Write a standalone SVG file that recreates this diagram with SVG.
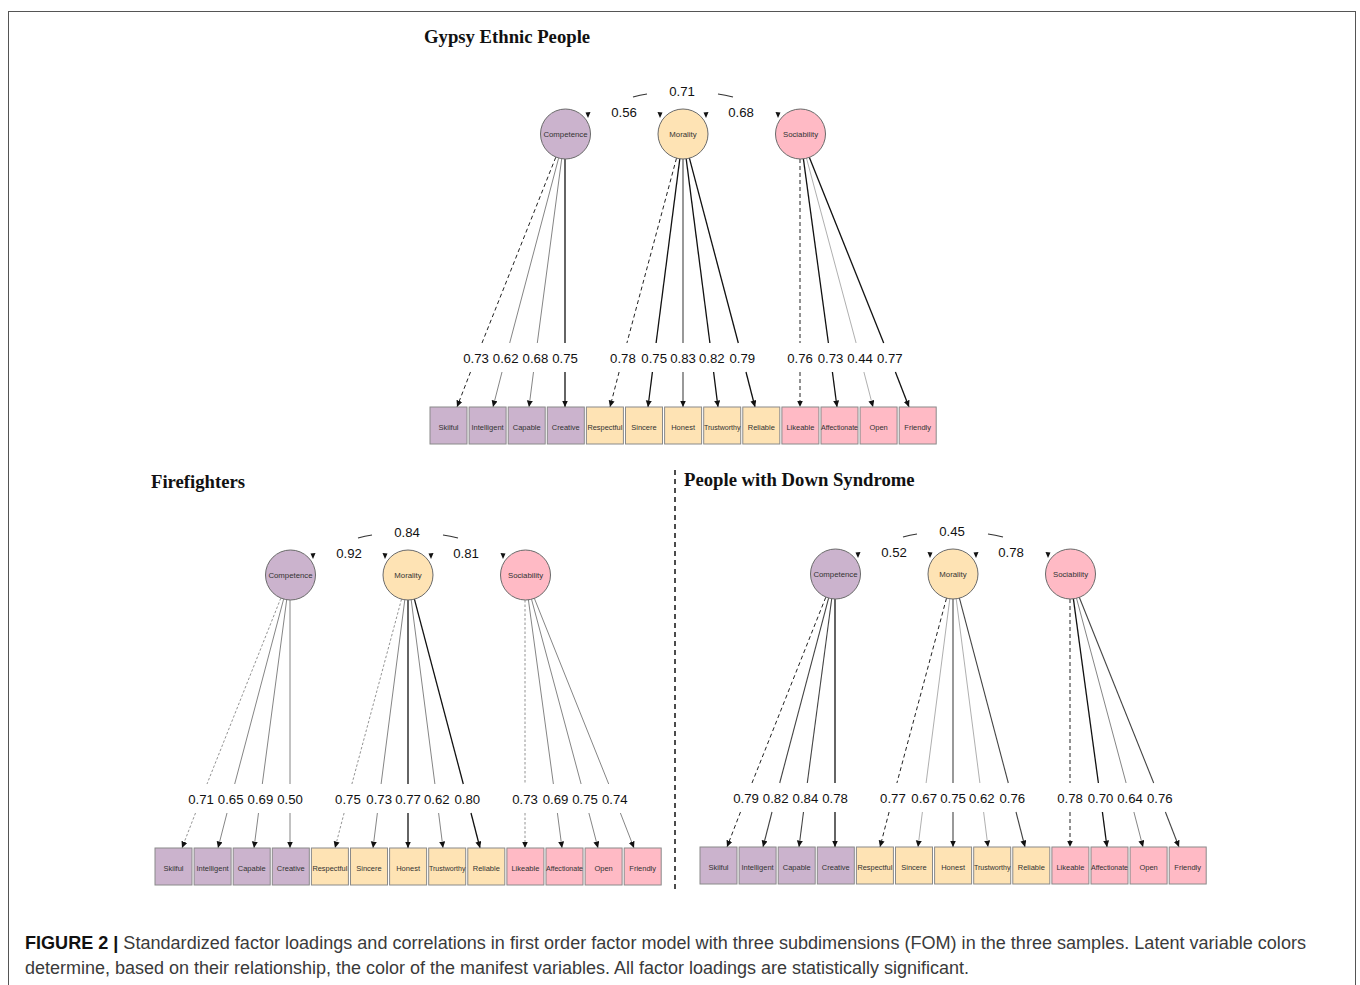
<svg xmlns="http://www.w3.org/2000/svg" width="1360" height="985" viewBox="0 0 1360 985">
<style>
.c{stroke:#6a6a6a;stroke-width:1}
.b{stroke:#8a8a8a;stroke-width:1}
.comp{fill:#cbb3cd}
.mor{fill:#fee3b4}
.soc{fill:#ffbac5}
.ct{font-family:"Liberation Sans",Arial,sans-serif;font-size:7.8px;fill:#333;text-anchor:middle}
.bt{font-family:"Liberation Sans",Arial,sans-serif;font-size:7.5px;fill:#333;text-anchor:middle}
.lab{font-family:"Liberation Sans",Arial,sans-serif;font-size:13.2px;fill:#111;text-anchor:middle}
.ttl{font-family:"Liberation Serif","Times New Roman",serif;font-size:18.7px;font-weight:bold;fill:#111}
line,path.ln{fill:none}
.d{stroke:#222;stroke-width:1;stroke-dasharray:4 3}
.dl{stroke:#777;stroke-width:0.8;stroke-dasharray:2.5 2}
.k{stroke:#111;stroke-width:1.3}
.m{stroke:#444;stroke-width:1.1}
.g{stroke:#777;stroke-width:0.9}
.lg{stroke:#9a9a9a;stroke-width:0.8}
.ah{marker-end:url(#arr)}
.arc{stroke:#333;stroke-width:1.2;fill:none}
.tri{fill:#111}
.cap{font-family:"Liberation Sans",Arial,sans-serif;font-size:17.5px;fill:#3a3a3a}
</style>
<defs>
<marker id="arr" markerUnits="userSpaceOnUse" markerWidth="8" markerHeight="8" refX="6.5" refY="3" orient="auto">
<path d="M0,0 L6.5,3 L0,6 z" fill="#111" stroke="none"/>
</marker>
<g id="corr">
<path class="arc" d="M633,97 Q640,95 647,94"/>
<path class="arc" d="M718,94 Q725,95 733,97"/>
<polygon class="tri" points="585.5,112.5 590.5,112 588,118"/>
<polygon class="tri" points="657.5,112 662.5,112.5 660,118"/>
<polygon class="tri" points="703.5,112.5 708.5,112 706,118"/>
<polygon class="tri" points="775.5,112 780.5,112.5 778,118"/>
</g>
<g id="latent">
<g><circle class="c comp" cx="565.5" cy="134" r="25"/><text class="ct" x="565.5" y="136.8">Competence</text></g>
<g><circle class="c mor" cx="683" cy="134" r="25"/><text class="ct" x="683" y="136.8">Morality</text></g>
<g><circle class="c soc" cx="800.5" cy="134" r="25"/><text class="ct" x="800.5" y="136.8">Sociability</text></g>
</g>
<g id="manifest">
<g><rect class="b comp" x="430" y="407" width="37" height="37"/><text class="bt" x="448.5" y="429.5">Skilful</text></g>
<g><rect class="b comp" x="469.1" y="407" width="37" height="37"/><text class="bt" x="487.6" y="429.5">Intelligent</text></g>
<g><rect class="b comp" x="508.2" y="407" width="37" height="37"/><text class="bt" x="526.7" y="429.5">Capable</text></g>
<g><rect class="b comp" x="547.3" y="407" width="37" height="37"/><text class="bt" x="565.8" y="429.5">Creative</text></g>
<g><rect class="b mor" x="586.4" y="407" width="37" height="37"/><text class="bt" x="604.9" y="429.5" textLength="35" lengthAdjust="spacingAndGlyphs">Respectful</text></g>
<g><rect class="b mor" x="625.5" y="407" width="37" height="37"/><text class="bt" x="644" y="429.5">Sincere</text></g>
<g><rect class="b mor" x="664.6" y="407" width="37" height="37"/><text class="bt" x="683.1" y="429.5">Honest</text></g>
<g><rect class="b mor" x="703.7" y="407" width="37" height="37"/><text class="bt" x="722.2" y="429.5" textLength="36.5" lengthAdjust="spacingAndGlyphs">Trustworthy</text></g>
<g><rect class="b mor" x="742.8" y="407" width="37" height="37"/><text class="bt" x="761.3" y="429.5">Reliable</text></g>
<g><rect class="b soc" x="781.9" y="407" width="37" height="37"/><text class="bt" x="800.4" y="429.5">Likeable</text></g>
<g><rect class="b soc" x="821" y="407" width="37" height="37"/><text class="bt" x="839.5" y="429.5" textLength="37" lengthAdjust="spacingAndGlyphs">Affectionate</text></g>
<g><rect class="b soc" x="860.1" y="407" width="37" height="37"/><text class="bt" x="878.6" y="429.5">Open</text></g>
<g><rect class="b soc" x="899.2" y="407" width="37" height="37"/><text class="bt" x="917.7" y="429.5">Friendly</text></g>
</g>
</defs>

<rect x="8.5" y="11.5" width="1347" height="1000" fill="#fff" stroke="#555" stroke-width="1"/>

<!-- Panel 1: Gypsy Ethnic People -->
<g id="panel-gypsy">
<text class="ttl" x="424" y="43">Gypsy Ethnic People</text>
<g id="gypsy-connectors">
<use href="#corr"/>
<line class="d" x1="555.8" y1="157.2" x2="482" y2="343"/><line class="d ah" x1="470.5" y1="372" x2="457" y2="407"/>
<line class="g" x1="558.6" y1="158.2" x2="509.7" y2="343"/><line class="g ah" x1="502" y1="372" x2="493" y2="407"/>
<line class="g" x1="561.7" y1="158.8" x2="537.3" y2="343"/><line class="g ah" x1="533.5" y1="372" x2="529" y2="407"/>
<line class="k" x1="565" y1="159" x2="565" y2="343"/><line class="k ah" x1="565" y1="372" x2="565" y2="407"/>
<line class="d" x1="676.5" y1="158.2" x2="626.9" y2="343"/><line class="d ah" x1="619.1" y1="372" x2="610" y2="407"/>
<line class="k" x1="679.8" y1="158.8" x2="656.1" y2="343"/><line class="k ah" x1="652.4" y1="372" x2="648" y2="407"/>
<line class="m" x1="683" y1="159" x2="683" y2="343"/><line class="m ah" x1="683" y1="372" x2="683" y2="407"/>
<line class="k" x1="686.2" y1="158.8" x2="709.9" y2="343"/><line class="k ah" x1="713.6" y1="372" x2="718" y2="407"/>
<line class="k" x1="689.4" y1="158.2" x2="738.3" y2="343"/><line class="k ah" x1="746" y1="372" x2="755" y2="407"/>
<line class="d" x1="800" y1="159" x2="800" y2="343"/><line class="d ah" x1="800" y1="372" x2="800" y2="407"/>
<line class="k" x1="803.4" y1="158.8" x2="828.4" y2="343"/><line class="k ah" x1="832.4" y1="372" x2="837" y2="407"/>
<line class="lg" x1="806.5" y1="158.2" x2="856.1" y2="343"/><line class="lg ah" x1="863.9" y1="372" x2="873" y2="407"/>
<line class="k" x1="809.3" y1="157.2" x2="883.7" y2="343"/><line class="k ah" x1="895.4" y1="372" x2="909" y2="407"/>
</g>
<g id="gypsy-nodes">
<use href="#latent"/>
<use href="#manifest"/>
</g>
<g id="gypsy-labels">
<text class="lab" x="682" y="96">0.71</text><text class="lab" x="624" y="117">0.56</text><text class="lab" x="741" y="117">0.68</text>
<text class="lab" x="476" y="363">0.73</text><text class="lab" x="505.7" y="363">0.62</text><text class="lab" x="535.4" y="363">0.68</text><text class="lab" x="565" y="363">0.75</text>
<text class="lab" x="622.9" y="363">0.78</text><text class="lab" x="654.2" y="363">0.75</text><text class="lab" x="683" y="363">0.83</text><text class="lab" x="711.8" y="363">0.82</text><text class="lab" x="742.3" y="363">0.79</text>
<text class="lab" x="800" y="363">0.76</text><text class="lab" x="830.5" y="363">0.73</text><text class="lab" x="860.1" y="363">0.44</text><text class="lab" x="889.8" y="363">0.77</text>
</g>
</g>

<!-- Panel 2: Firefighters -->
<text class="ttl" x="151" y="488">Firefighters</text>
<g id="panel-fire" transform="translate(-275,441)">
<g id="fire-connectors">
<use href="#corr"/>
<line class="dl" x1="555.8" y1="157.2" x2="482" y2="343"/><line class="dl ah" x1="470.5" y1="372" x2="457" y2="407"/>
<line class="g" x1="558.6" y1="158.2" x2="509.7" y2="343"/><line class="g ah" x1="502" y1="372" x2="493" y2="407"/>
<line class="g" x1="561.7" y1="158.8" x2="537.3" y2="343"/><line class="g ah" x1="533.5" y1="372" x2="529" y2="407"/>
<line class="g" x1="565" y1="159" x2="565" y2="343"/><line class="g ah" x1="565" y1="372" x2="565" y2="407"/>
<line class="dl" x1="676.5" y1="158.2" x2="626.9" y2="343"/><line class="dl ah" x1="619.1" y1="372" x2="610" y2="407"/>
<line class="g" x1="679.8" y1="158.8" x2="656.1" y2="343"/><line class="g ah" x1="652.4" y1="372" x2="648" y2="407"/>
<line class="k" x1="683" y1="159" x2="683" y2="343"/><line class="k ah" x1="683" y1="372" x2="683" y2="407"/>
<line class="g" x1="686.2" y1="158.8" x2="709.9" y2="343"/><line class="g ah" x1="713.6" y1="372" x2="718" y2="407"/>
<line class="k" x1="689.4" y1="158.2" x2="738.3" y2="343"/><line class="k ah" x1="746" y1="372" x2="755" y2="407"/>
<line class="dl" x1="800" y1="159" x2="800" y2="343"/><line class="dl ah" x1="800" y1="372" x2="800" y2="407"/>
<line class="g" x1="803.4" y1="158.8" x2="828.4" y2="343"/><line class="g ah" x1="832.4" y1="372" x2="837" y2="407"/>
<line class="g" x1="806.5" y1="158.2" x2="856.1" y2="343"/><line class="g ah" x1="863.9" y1="372" x2="873" y2="407"/>
<line class="g" x1="809.3" y1="157.2" x2="883.7" y2="343"/><line class="g ah" x1="895.4" y1="372" x2="909" y2="407"/>
</g>
<g id="fire-nodes">
<use href="#latent"/>
<use href="#manifest"/>
</g>
<g id="fire-labels">
<text class="lab" x="682" y="96">0.84</text><text class="lab" x="624" y="117">0.92</text><text class="lab" x="741" y="117">0.81</text>
<text class="lab" x="476" y="363">0.71</text><text class="lab" x="505.7" y="363">0.65</text><text class="lab" x="535.4" y="363">0.69</text><text class="lab" x="565" y="363">0.50</text>
<text class="lab" x="622.9" y="363">0.75</text><text class="lab" x="654.2" y="363">0.73</text><text class="lab" x="683" y="363">0.77</text><text class="lab" x="711.8" y="363">0.62</text><text class="lab" x="742.3" y="363">0.80</text>
<text class="lab" x="800" y="363">0.73</text><text class="lab" x="830.5" y="363">0.69</text><text class="lab" x="860.1" y="363">0.75</text><text class="lab" x="889.8" y="363">0.74</text>
</g>
</g>

<line x1="675" y1="470" x2="675" y2="893" stroke="#111" stroke-width="1.5" stroke-dasharray="5 4"/>

<!-- Panel 3: People with Down Syndrome -->
<text class="ttl" x="684" y="486">People with Down Syndrome</text>
<g id="panel-down" transform="translate(270,440)">
<g id="down-connectors">
<use href="#corr"/>
<line class="d" x1="555.8" y1="157.2" x2="482" y2="343"/><line class="d ah" x1="470.5" y1="372" x2="457" y2="407"/>
<line class="m" x1="558.6" y1="158.2" x2="509.7" y2="343"/><line class="m ah" x1="502" y1="372" x2="493" y2="407"/>
<line class="m" x1="561.7" y1="158.8" x2="537.3" y2="343"/><line class="m ah" x1="533.5" y1="372" x2="529" y2="407"/>
<line class="k" x1="565" y1="159" x2="565" y2="343"/><line class="k ah" x1="565" y1="372" x2="565" y2="407"/>
<line class="d" x1="676.5" y1="158.2" x2="626.9" y2="343"/><line class="d ah" x1="619.1" y1="372" x2="610" y2="407"/>
<line class="lg" x1="679.8" y1="158.8" x2="656.1" y2="343"/><line class="lg ah" x1="652.4" y1="372" x2="648" y2="407"/>
<line class="m" x1="683" y1="159" x2="683" y2="343"/><line class="m ah" x1="683" y1="372" x2="683" y2="407"/>
<line class="lg" x1="686.2" y1="158.8" x2="709.9" y2="343"/><line class="lg ah" x1="713.6" y1="372" x2="718" y2="407"/>
<line class="m" x1="689.4" y1="158.2" x2="738.3" y2="343"/><line class="m ah" x1="746" y1="372" x2="755" y2="407"/>
<line class="d" x1="800" y1="159" x2="800" y2="343"/><line class="d ah" x1="800" y1="372" x2="800" y2="407"/>
<line class="k" x1="803.4" y1="158.8" x2="828.4" y2="343"/><line class="k ah" x1="832.4" y1="372" x2="837" y2="407"/>
<line class="g" x1="806.5" y1="158.2" x2="856.1" y2="343"/><line class="g ah" x1="863.9" y1="372" x2="873" y2="407"/>
<line class="m" x1="809.3" y1="157.2" x2="883.7" y2="343"/><line class="m ah" x1="895.4" y1="372" x2="909" y2="407"/>
</g>
<g id="down-nodes">
<use href="#latent"/>
<use href="#manifest"/>
</g>
<g id="down-labels">
<text class="lab" x="682" y="96">0.45</text><text class="lab" x="624" y="117">0.52</text><text class="lab" x="741" y="117">0.78</text>
<text class="lab" x="476" y="363">0.79</text><text class="lab" x="505.7" y="363">0.82</text><text class="lab" x="535.4" y="363">0.84</text><text class="lab" x="565" y="363">0.78</text>
<text class="lab" x="622.9" y="363">0.77</text><text class="lab" x="654.2" y="363">0.67</text><text class="lab" x="683" y="363">0.75</text><text class="lab" x="711.8" y="363">0.62</text><text class="lab" x="742.3" y="363">0.76</text>
<text class="lab" x="800" y="363">0.78</text><text class="lab" x="830.5" y="363">0.70</text><text class="lab" x="860.1" y="363">0.64</text><text class="lab" x="889.8" y="363">0.76</text>
</g>
</g>

<g id="caption">
<text class="cap" x="25" y="949" textLength="1281" lengthAdjust="spacingAndGlyphs"><tspan font-weight="bold" fill="#111">FIGURE 2 | </tspan>Standardized factor loadings and correlations in first order factor model with three subdimensions (FOM) in the three samples. Latent variable colors</text>
<text class="cap" x="25" y="974" textLength="944" lengthAdjust="spacingAndGlyphs">determine, based on their relationship, the color of the manifest variables. All factor loadings are statistically significant.</text>
</g>
</svg>
